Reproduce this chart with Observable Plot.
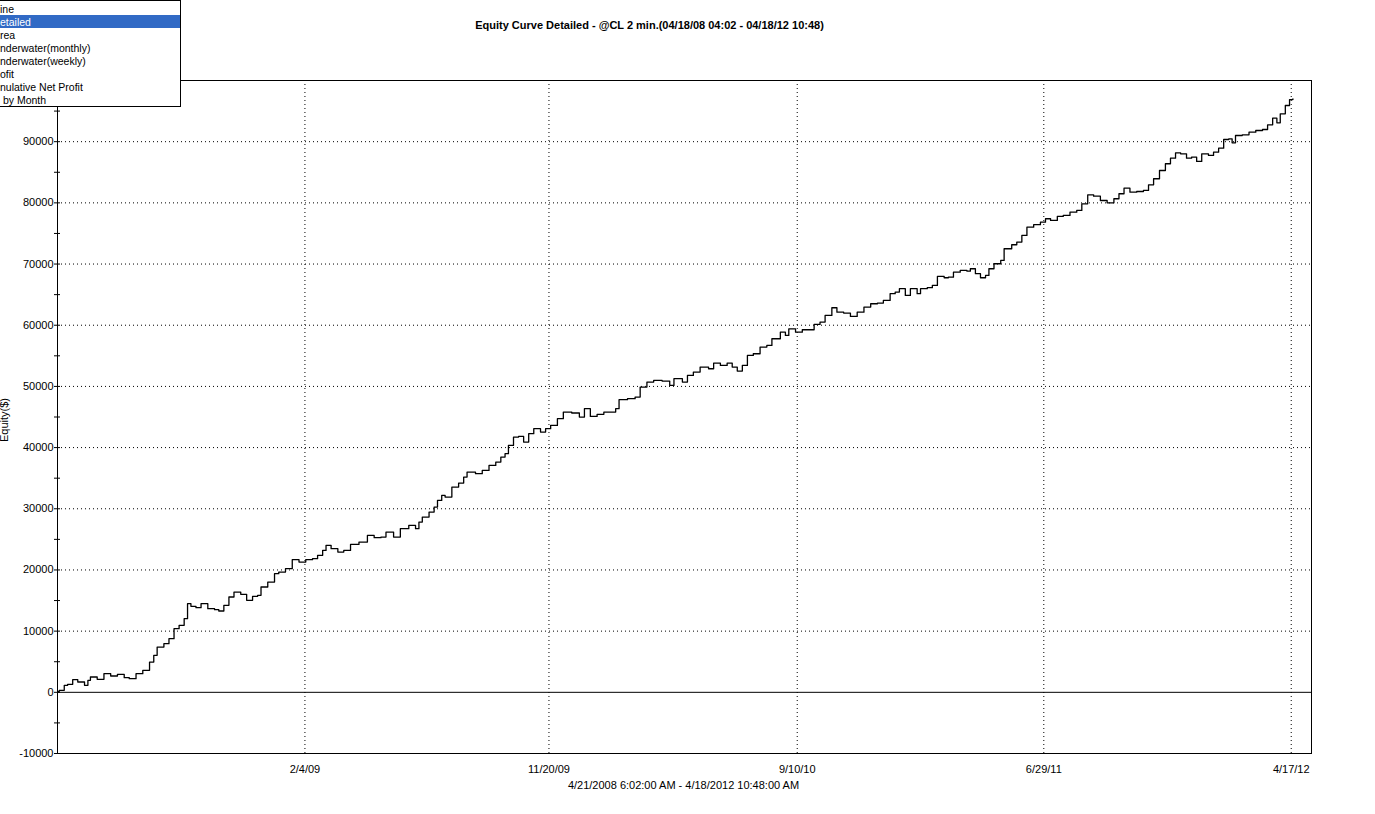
<!DOCTYPE html>
<html>
<head>
<meta charset="utf-8">
<script src="https://cdn.jsdelivr.net/npm/d3@7"></script>
<script src="https://cdn.jsdelivr.net/npm/@observablehq/plot@0.6"></script>
<style>
  html, body { margin: 0; padding: 0; background: #fff; overflow: hidden; }
  #wrap { position: relative; width: 1375px; height: 814px; }
  #menu {
    position: absolute; left: 0; top: 0; width: 180px; height: 104px;
    border: 1px solid #000; border-left: none; background: #fff;
    padding-top: 1px; box-sizing: content-box;
    font-family: "Liberation Sans", Arial, sans-serif; font-size: 10.5px; line-height: 13px;
    z-index: 2; overflow: hidden; white-space: pre;
  }
  #menu div { height: 13px; padding-left: 0; }
  #menu div span { position: relative; top: 1px; }
  #menu div.sel { background: #316AC5; color: #fff; }
</style>
</head>
<body>
<div id="wrap">
  <div id="menu"></div>
  <div id="chart"></div>
</div>
<script>
// ---- data ----
const chartTitle = "Equity Curve Detailed - @CL 2 min.(04/18/08 04:02 - 04/18/12 10:48)";
const caption = "4/21/2008 6:02:00 AM - 4/18/2012 10:48:00 AM";
const yLabel = "Equity($)";
const menuItems = ["ine", "etailed", "rea", "nderwater(monthly)", "nderwater(weekly)", "ofit", "nulative Net Profit", " by Month"];
const selectedItem = 1;
const xTickDates = ["2009-02-04", "2009-11-20", "2010-09-10", "2011-06-29", "2012-04-17"];
const yTickValues = [-10000, -5000, 0, 5000, 10000, 15000, 20000, 25000, 30000, 35000, 40000, 45000, 50000, 55000, 60000, 65000, 70000, 75000, 80000, 85000, 90000, 95000];
const yGridValues = [10000, 20000, 30000, 40000, 50000, 60000, 70000, 80000, 90000];
const xDomain = ["2008-04-17", "2012-05-11"];
const seriesStart = "2008-04-17";
// days since seriesStart
const dayOffsets = [1, 2, 8, 12, 18, 24, 32, 36, 39, 47, 55, 63, 71, 79, 85, 93, 101, 105, 109, 114, 118, 126, 132, 138, 144, 150, 154, 158, 164, 170, 178, 186, 191, 197, 203, 209, 217, 224, 231, 237, 241, 249, 257, 262, 270, 278, 286, 294, 302, 308, 314, 318, 324, 332, 339, 347, 357, 367, 375, 383, 389,
  398, 406, 416, 424, 428, 432, 440, 446, 450, 455, 459, 467, 475, 481, 485, 495, 503, 511, 519, 525, 530, 534, 540, 546, 552, 558, 564, 572, 578, 584, 592, 599, 609, 618, 624, 631, 639, 647, 655, 661, 665, 675, 684, 690, 698, 706, 716, 725, 730, 740, 746, 753, 761, 771,
  777, 785, 793, 799, 805, 811, 817, 824, 832, 840, 846, 856, 862, 866, 874, 882, 890, 896, 903, 909, 917, 923, 931, 939, 947, 955, 963, 971, 978, 986, 992, 997, 1004, 1010, 1018, 1022, 1030, 1036, 1042, 1050, 1055, 1061, 1069, 1077, 1081, 1087, 1093, 1099, 1103, 1109, 1117, 1121,
  1130, 1136, 1142, 1148, 1156, 1164, 1170, 1176, 1184, 1191, 1199, 1207, 1213, 1220, 1227, 1235, 1243, 1251, 1257, 1263, 1270, 1278, 1286, 1292, 1298, 1305, 1312, 1318, 1324, 1330, 1337, 1343, 1349, 1355, 1363, 1369, 1375, 1381, 1387, 1391, 1395, 1403, 1411, 1419, 1427, 1433, 1439, 1444, 1448, 1454, 1459, 1463];
const equity = [100, 330, 1150, 1300, 2070, 1690, 1150, 1960, 2500, 2120, 3050, 2670, 2940, 2400, 2230, 3050, 3600, 3600, 4950, 6050, 7400, 7950, 8770, 10400, 10950, 12040, 14490, 14050, 13840, 14490, 13670, 13510, 13290, 14220, 15580, 16390, 16010, 15030, 15690, 15850, 17210, 18020, 19390, 19660, 20210, 21680, 21290, 21680, 21850, 22390, 23200, 24020, 23480, 22930, 23200, 24180, 24560, 25650, 25280, 25380, 26190,
  25380, 26750, 27290, 26750, 27830, 28640, 29460, 30280, 31370, 32190, 31910, 33550, 34200, 35180, 36000, 35730, 36270, 37090, 37630, 38450, 39000, 40360, 41720, 41830, 40900, 42270, 43090, 42540, 43090, 43630, 44720, 45810, 45650, 44990, 46360, 45100, 45430, 45810, 45810, 46360, 47830, 47990, 48260, 49890, 50710, 50980, 50870, 50160, 51260, 50710, 51800, 52340, 53160, 52890,
  53810, 53430, 53810, 53160, 52500, 53430, 55070, 55340, 56430, 56700, 57790, 58870, 58330, 59420, 58870, 59260, 59260, 60130, 60510, 61600, 62860, 62140, 61980, 61440, 62140, 62960, 63510, 63620, 64050, 65150, 65420, 65970, 64870, 65970, 65150, 65970, 66130, 66510, 67980, 67760, 67860, 68670, 68950, 68840, 69230, 68420, 67760, 68140, 69230, 70050, 70590, 72500,
  73150, 73590, 74680, 76030, 76430, 76850, 77400, 77130, 77780, 77940, 78480, 78760, 79850, 81320, 81100, 80390, 80010, 80670, 81490, 82400, 81750, 81860, 82030, 82950, 83940, 85290, 86390, 87300, 88180, 88020, 87300, 87470, 86770, 88020, 87750, 88290, 88940, 90360, 90470, 89820, 91010, 91120, 91560, 91830, 91990, 92760, 93840, 93090, 94560, 95910, 96890, 97010];

// ---- build ----
const parse = d3.utcParse("%Y-%m-%d");
const t0 = parse(seriesStart).getTime();
const data = dayOffsets.map((d, i) => ({date: new Date(t0 + d * 864e5), equity: equity[i]}));
const xTicks = xTickDates.map(parse);
const fmt = d3.utcFormat("%-m/%-d/%y");
const dotted = {stroke: "black", strokeOpacity: 1, strokeWidth: 1, strokeDasharray: "1,3"};

const chart = Plot.plot({
  width: 1375,
  height: 814,
  marginTop: 80,
  marginBottom: 61,
  marginLeft: 57,
  marginRight: 64,
  style: {fontFamily: "'Liberation Sans', Arial, sans-serif", fontSize: "11px", color: "black", background: "white", overflow: "visible"},
  x: {type: "utc", domain: xDomain.map(parse)},
  y: {domain: [-10000, 100000]},
  marks: [
    Plot.gridX(xTicks, dotted),
    Plot.gridY(yGridValues, dotted),
    Plot.ruleY([0], {stroke: "black", strokeWidth: 1}),
    Plot.line(data, {x: "date", y: "equity", curve: "step-after", stroke: "black", strokeWidth: 1.3}),
    Plot.frame({stroke: "black", strokeWidth: 1}),
    Plot.axisX(xTicks, {tickSize: 0, tickPadding: 12, tickFormat: fmt, label: null, fontSize: 11}),
    Plot.axisY(yTickValues, {tickSize: 6, dx: 3, tickPadding: 1, tickFormat: d => d % 10000 === 0 ? String(d) : "", label: null, fontSize: 11}),
    Plot.text([yLabel], {frameAnchor: "left", rotate: -90, dx: -53, dy: 3, fontSize: 11, textAnchor: "middle", lineAnchor: "middle"}),
    Plot.text([chartTitle], {frameAnchor: "top", dy: -52, dx: -35, fontWeight: "bold", fontSize: 11, lineAnchor: "bottom"}),
    Plot.text([caption], {frameAnchor: "bottom", dy: 35, dx: -1, fontSize: 11})
  ]
});
document.getElementById("chart").appendChild(chart);

const menu = document.getElementById("menu");
menuItems.forEach((t, i) => {
  const el = document.createElement("div");
  const s = document.createElement("span");
  s.textContent = t;
  el.appendChild(s);
  if (i === selectedItem) el.className = "sel";
  menu.appendChild(el);
});
</script>
</body>
</html>
